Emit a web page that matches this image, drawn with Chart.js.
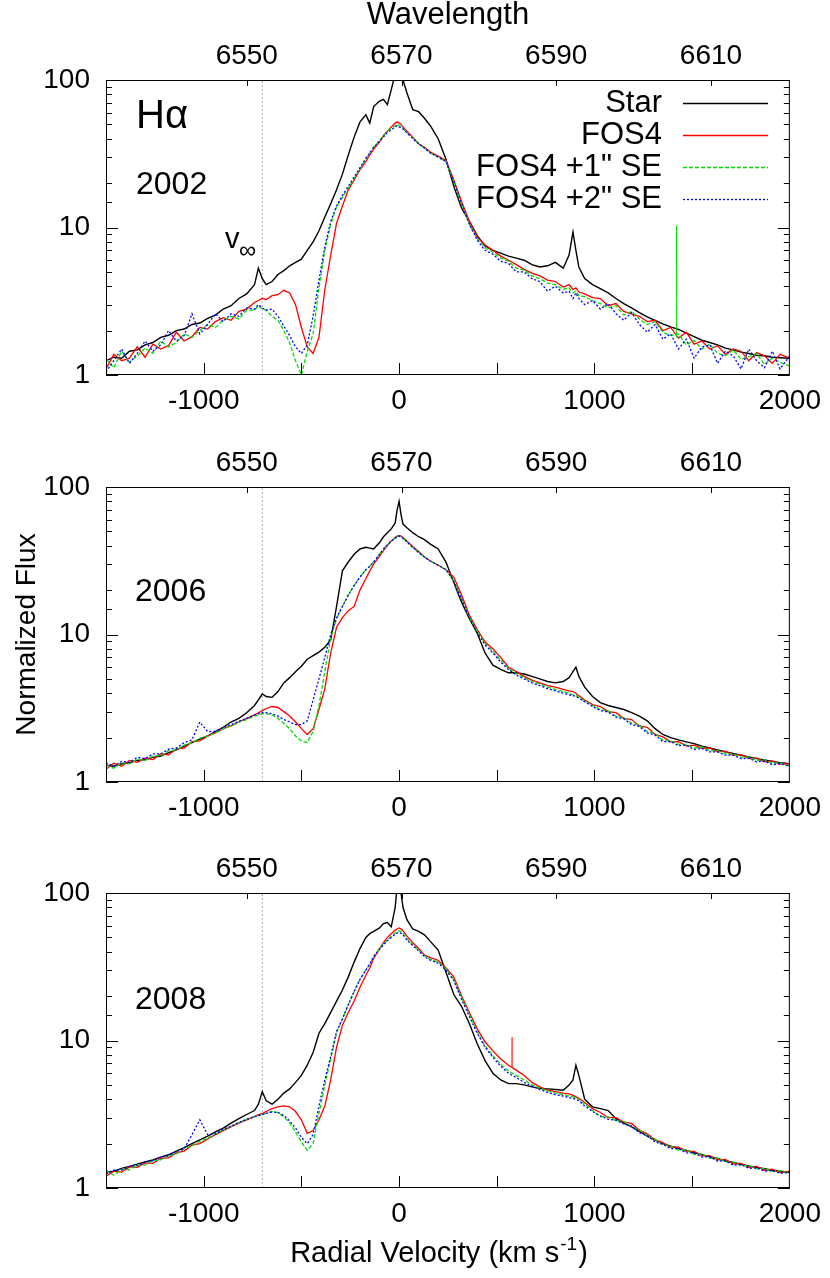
<!DOCTYPE html>
<html>
<head>
<meta charset="utf-8">
<script src="https://cdn.jsdelivr.net/npm/chart.js@4.4.0/dist/chart.umd.min.js"></script>
<style>
  body { margin: 0; background: #fff; }
  canvas { position: absolute; left: 0; }
</style>
</head>
<body>
<canvas id="c1" width="830" height="430" style="top:0px"></canvas>
<canvas id="c2" width="830" height="410" style="top:430px"></canvas>
<canvas id="c3" width="830" height="438" style="top:840px"></canvas>
<script>
// radial velocity grid (km/s), shared by all spectra
var vel = [-1500,-1460,-1420,-1380,-1340,-1300,-1260,-1220,-1180,-1140,-1100,-1060,-1020,
  -980,-940,-900,-860,-820,-780,-740,-720,-700,-680,-650,-620,-590,-560,
  -530,-500,-470,-440,-410,-380,-350,-320,-290,-260,-230,-200,-170,
  -150,-130,-100,-80,-60,-40,-20,-10,0,10,20,40,70,
  100,130,160,200,240,280,320,360,400,440,480,520,560,
  600,640,680,720,760,800,840,870,890,905,920,950,990,
  1030,1070,1110,1150,1190,1230,1270,1310,1350,1390,1430,1470,1510,
  1550,1590,1630,1670,1710,1750,1790,1830,1870,1910,1950,2000];

// 2002
var star02 = [1.25,1.32,1.3,1.45,1.48,1.6,1.66,1.8,1.86,2.0,2.05,2.2,2.25,
  2.42,2.55,2.8,2.95,3.3,3.55,4.1,5.3,4.5,4.1,4.3,4.8,5.1,5.5,
  5.8,6.1,7.0,8.0,9.5,11.8,14.5,18,23,31,41,52,58,
  51,66,72,74,68,86,110,140,140,125,100,82,63,
  61,55,49,40,29,19,13.5,11,8.8,7.5,7.0,6.7,6.4,
  6.2,6.0,5.6,5.4,5.5,5.8,5.3,6.5,9.3,7.0,5.4,4.5,4.1,
  3.85,3.6,3.3,3.05,2.85,2.65,2.48,2.35,2.22,2.12,2.04,1.92,1.82,
  1.72,1.66,1.6,1.52,1.48,1.43,1.4,1.36,1.35,1.32,1.31,1.3];
var fos02 = [1.1,1.38,1.25,1.3,1.55,1.32,1.62,1.5,1.58,1.95,1.7,1.82,2.1,
  2.05,2.3,2.45,2.35,2.7,2.8,3.1,3.2,3.3,3.25,3.45,3.5,3.75,3.6,
  3.0,2.1,1.55,1.4,1.8,3.8,6.5,10.7,14,18,21,24.6,28,
  31,34,38,42,45,48,51,52,51,50,48,45,41,
  37,35,32.5,30.5,28.5,21,15,11,8.6,7.6,7.0,6.4,6.0,
  5.6,5.2,4.9,4.7,4.4,4.3,3.95,4.1,3.8,3.9,3.65,3.55,3.35,
  3.3,2.95,3.05,2.7,2.6,2.5,2.3,2.35,2.0,2.1,1.78,1.95,1.62,
  1.7,1.5,1.58,1.38,1.5,1.45,1.25,1.42,1.35,1.2,1.38,1.3];
var se1_02 = [1.28,1.12,1.45,1.22,1.35,1.52,1.4,1.7,1.55,1.66,1.9,1.8,2.0,
  2.2,2.1,2.35,2.5,2.4,2.75,2.75,2.95,2.8,2.75,2.5,2.35,2.0,1.65,
  1.25,1.0,1.45,1.9,3.9,7.0,10.5,13.8,16,18.5,21.5,25,29,
  32,35,39,42,45,47,49,50,49,48,47,44,40.5,
  37,34.5,32,30,28,20.5,14.5,10.5,8.4,7.3,6.8,6.2,5.9,
  5.3,5.15,4.7,4.5,4.2,4.1,3.8,3.9,3.6,3.7,3.45,3.4,3.2,
  3.05,2.85,2.95,2.55,2.7,2.4,2.2,2.3,1.95,1.85,1.9,1.6,1.72,
  1.5,1.62,1.4,1.35,1.48,1.28,1.33,1.4,1.18,1.3,1.22,1.15];
var se2_02 = [1.05,1.25,1.5,1.2,1.4,1.7,1.45,1.6,2.0,1.7,1.85,2.6,1.9,
  2.2,2.6,2.3,2.6,2.5,2.85,2.8,3.0,2.85,2.75,2.8,2.5,2.15,1.85,
  1.55,1.4,1.6,2.5,4.4,7.4,11,14,16.5,19,22,25.5,29.5,
  32,35,38.5,41,44,46,48,49,48,47.5,46.5,44,40,
  37,34.5,32,30,28,20.5,14.5,10.5,8.2,7.0,6.6,5.9,5.7,
  5.0,5.0,4.5,4.3,3.7,4.0,3.6,3.7,3.3,3.6,3.3,3.0,3.2,
  2.8,3.05,2.6,2.35,2.65,2.2,1.95,2.2,1.75,1.9,1.5,1.75,1.3,
  1.55,1.6,1.2,1.45,1.35,1.1,1.5,1.25,1.12,1.45,1.1,1.35];
var glitch02V = [1419, 1420, 1421];
var glitch02F = [1.8, 10.3, 1.8];

// 2006
var star06 = [1.3,1.28,1.33,1.35,1.4,1.42,1.47,1.5,1.58,1.65,1.75,1.85,1.95,
  2.05,2.2,2.35,2.55,2.7,2.95,3.3,3.6,3.95,3.8,3.75,4.1,4.7,5.1,
  5.6,6.1,6.8,7.2,7.6,8.2,9.2,15.5,27,31,35,38,39,
  38.5,38,42,46,49,52,57,70,80,65,56,53,49,
  46,44,41,38,31,22.5,16.5,12.8,10.2,7.5,6.2,5.8,5.5,
  5.5,5.4,5.2,5.0,4.8,4.7,4.8,5.1,5.6,6.0,5.2,4.4,3.8,
  3.45,3.3,3.2,3.1,2.95,2.8,2.6,2.3,2.1,2.0,1.93,1.87,1.82,
  1.75,1.7,1.65,1.6,1.56,1.52,1.48,1.44,1.41,1.38,1.35,1.33];
var fos06 = [1.22,1.34,1.28,1.4,1.36,1.45,1.42,1.55,1.53,1.68,1.7,1.88,1.9,
  2.05,2.15,2.3,2.4,2.55,2.7,2.85,2.95,3.05,3.15,3.25,3.2,3.0,2.8,
  2.55,2.3,2.1,2.3,3.1,4.3,7.5,11.2,13,14.5,15.5,20,24,
  27,30,34,37,40,43,45.5,46.5,47,46.5,45.5,43,39.5,
  36.5,33.5,31.5,29.5,27.5,24.5,18.5,13.5,10.8,8.9,8.0,7.0,6.0,
  5.6,5.2,4.9,4.7,4.5,4.4,4.25,4.15,4.1,4.0,3.85,3.6,3.35,
  3.25,3.0,2.95,2.7,2.65,2.4,2.35,2.1,2.02,1.87,1.88,1.76,1.78,
  1.69,1.7,1.6,1.62,1.52,1.53,1.44,1.45,1.37,1.39,1.32,1.33];
var se1_06 = [1.3,1.24,1.35,1.33,1.43,1.4,1.5,1.51,1.63,1.65,1.78,1.84,1.98,
  2.05,2.15,2.3,2.4,2.55,2.65,2.8,2.85,2.9,2.9,2.85,2.7,2.5,2.3,
  2.05,1.9,1.85,2.2,3.3,5.6,9.5,12.8,15.5,18.5,21.5,24.5,27.5,
  29,31,35,38,40.5,43,45,46,46.5,46,45,42.5,39,
  36,33.5,31.5,29.5,27.5,23,17.5,13,10.5,8.7,7.7,6.7,5.9,
  5.4,5.1,4.8,4.6,4.4,4.25,4.1,4.0,3.9,3.85,3.75,3.55,3.3,
  3.1,3.03,2.8,2.74,2.5,2.43,2.2,2.13,1.92,1.9,1.8,1.8,1.7,
  1.72,1.63,1.63,1.55,1.55,1.47,1.48,1.4,1.41,1.34,1.35,1.28];
var se2_06 = [1.35,1.28,1.38,1.36,1.47,1.44,1.55,1.55,1.67,1.7,1.85,1.93,2.55,
  2.2,2.2,2.35,2.45,2.58,2.7,2.85,2.9,2.95,2.95,2.9,2.8,2.65,2.55,
  2.45,2.45,2.6,3.6,5.0,7.0,10.0,13,15.5,18.5,21.5,24.5,27.5,
  29,31,35,38,40.5,43,45,46,46.5,46,45,42.5,39,
  36,33.5,31.5,29.5,27.5,23,17.5,13,10.3,8.5,7.5,6.5,5.8,
  5.3,5.0,4.7,4.5,4.3,4.15,4.0,3.9,3.85,3.8,3.7,3.5,3.25,
  3.05,2.98,2.75,2.68,2.45,2.38,2.15,2.08,1.88,1.88,1.76,1.78,1.66,
  1.69,1.6,1.6,1.52,1.52,1.44,1.45,1.37,1.39,1.31,1.33,1.28];

// 2008
var star08 = [1.28,1.3,1.36,1.4,1.45,1.5,1.55,1.62,1.68,1.78,1.88,2.0,2.12,
  2.25,2.4,2.55,2.75,2.95,3.15,3.35,3.7,4.5,3.9,3.7,4.0,4.4,4.7,
  5.2,5.8,6.8,8.3,11.2,13,15.5,18.5,22,27,34,42,50,
  53,55,58,62,63,59,80,110,130,100,80,66,57,
  55,52,47,41,29,20.5,17,13,9.5,7.3,6.0,5.4,5.1,
  5.1,5.0,4.85,4.75,4.7,4.65,4.6,5.0,5.4,6.8,5.8,4.0,3.55,
  3.45,3.35,2.95,2.75,2.6,2.42,2.25,2.12,2.0,1.92,1.86,1.8,1.74,
  1.68,1.63,1.58,1.53,1.49,1.45,1.41,1.38,1.35,1.32,1.3,1.28];
var fos08 = [1.2,1.3,1.28,1.39,1.38,1.48,1.47,1.59,1.6,1.73,1.78,1.95,2.0,
  2.15,2.3,2.45,2.6,2.75,2.9,3.05,3.15,3.2,3.3,3.45,3.55,3.6,3.55,
  3.3,2.9,2.35,2.45,2.9,3.6,5.4,9,12.7,15.5,18.5,23,27.7,
  31,36,42,46,50,53,56,57,58,57,55.5,51,46,
  42,38,36.5,35,31,27,20,15.5,12,9.8,8.5,7.5,6.8,
  6.3,5.8,5.2,4.85,4.6,4.5,4.4,4.35,4.25,4.15,4.05,3.8,3.45,
  3.25,3.0,3.0,2.8,2.74,2.46,2.33,2.12,2.03,1.89,1.89,1.77,1.77,
  1.65,1.66,1.55,1.56,1.46,1.47,1.38,1.4,1.32,1.34,1.27,1.3];
var se1_08 = [1.32,1.22,1.34,1.33,1.44,1.43,1.54,1.55,1.66,1.7,1.84,1.93,2.07,
  2.18,2.32,2.48,2.62,2.78,2.92,3.05,3.1,3.15,3.2,3.3,3.25,3.05,2.75,
  2.4,2.05,1.8,2.0,3.2,5.0,7.5,11.3,14,17.5,21.5,26,30,
  33,37,42,45,48,51,53.5,55,55.5,55,53.5,49,44.5,
  41,37.5,35.5,34,30.5,26,19.5,15,11.5,9.2,7.9,6.9,6.2,
  5.8,5.4,5.0,4.75,4.55,4.4,4.3,4.2,4.15,4.1,4.0,3.7,3.35,
  3.05,3.04,2.86,2.83,2.61,2.48,2.25,2.15,1.95,1.93,1.81,1.81,1.69,
  1.7,1.59,1.6,1.5,1.5,1.42,1.42,1.35,1.36,1.29,1.31,1.25];
var se2_08 = [1.24,1.32,1.32,1.4,1.42,1.5,1.53,1.62,1.65,1.77,1.84,2.3,2.9,
  2.3,2.33,2.5,2.63,2.78,2.92,3.05,3.1,3.15,3.2,3.28,3.25,3.1,2.85,
  2.55,2.2,2.0,2.3,3.6,5.4,7.8,11.5,14,17.5,21.5,26,30,
  33,37,41.5,44.5,47.5,50,52.5,53.5,54,53.5,52,48,44,
  40.5,37,35,33.5,30,25.5,19,14.5,11.2,9.0,7.7,6.7,6.0,
  5.6,5.2,4.9,4.65,4.45,4.3,4.2,4.1,4.05,4.0,3.9,3.6,3.3,
  3.08,2.92,2.88,2.72,2.63,2.37,2.27,2.05,1.98,1.85,1.85,1.73,1.73,
  1.62,1.63,1.52,1.53,1.43,1.44,1.36,1.37,1.3,1.31,1.26,1.27];
var glitch08V = [576, 578, 580];
var glitch08F = [6.6, 10.5, 6.6];

// axes
var vInf = -700;
var velTicks = [-1000, 0, 1000, 2000];
var waveTicks = [6550, 6570, 6590, 6610];
var fluxTicks = [1, 10, 100];
var waveMin = 6531.8, waveMax = 6620.2;

var fontFamily = '"Liberation Sans", Arial, sans-serif';
Chart.defaults.font.family = fontFamily;
Chart.defaults.color = '#000';

function pts(xs, ys) {
  if (xs.length !== ys.length) throw new Error('length mismatch ' + ys.length);
  return xs.map(function (x, i) { return { x: x, y: ys[i] }; });
}

function spectra(star, fos, se1, se2) {
  return [
    { label: 'Star', data: pts(vel, star), borderColor: '#000000', borderWidth: 1.4, order: 4, inLegend: true },
    { label: 'FOS4', data: pts(vel, fos), borderColor: '#ff0000', borderWidth: 1.3, order: 3, inLegend: true },
    { label: 'FOS4 +1" SE', data: pts(vel, se1), borderColor: '#00dd00', borderWidth: 1.3, borderDash: [4, 2], order: 2, inLegend: true },
    { label: 'FOS4 +2" SE', data: pts(vel, se2), borderColor: '#0000ff', borderWidth: 1.3, borderDash: [2, 2], order: 1, inLegend: true },
    { label: 'vinf', data: pts([vInf, vInf], [1, 100]), borderColor: '#aaaaaa', borderWidth: 1, borderDash: [2, 2], order: 5 }
  ];
}

// frame, inward ticks, text notes, legend
var framePlugin = {
  id: 'frame',
  afterDraw: function (chart) {
    var o = chart.options.plugins.frame;
    var ctx = chart.ctx, a = chart.chartArea;
    function seg(x1, y1, x2, y2) { ctx.beginPath(); ctx.moveTo(x1, y1); ctx.lineTo(x2, y2); ctx.stroke(); }
    ctx.save();
    ctx.strokeStyle = '#000'; ctx.lineWidth = 1; ctx.setLineDash([]);
    ctx.strokeRect(a.left + 0.5, a.top + 0.5, a.right - a.left - 1, a.bottom - a.top - 1);

    var ys = chart.scales.y;
    ys.ticks.forEach(function (t) {
      var p = Math.round(ys.getPixelForValue(t.value)) + 0.5;
      var len = fluxTicks.indexOf(t.value) >= 0 ? 12 : 6;
      seg(a.left, p, a.left + len, p);
      seg(a.right, p, a.right - len, p);
    });
    var xs = chart.scales.x;
    xs.ticks.forEach(function (t) {
      if (t.value <= xs.min || t.value >= xs.max) return;
      var p = Math.round(xs.getPixelForValue(t.value)) + 0.5;
      seg(p, a.bottom, p, a.bottom - 12);
    });
    var ws = chart.scales.x2;
    ws.ticks.forEach(function (t) {
      if (waveTicks.indexOf(t.value) < 0) return;
      var p = Math.round(ws.getPixelForValue(t.value)) + 0.5;
      seg(p, a.top, p, a.top + 6);
    });

    ctx.fillStyle = '#000';
    ctx.textAlign = 'left'; ctx.textBaseline = 'alphabetic';
    (o.notes || []).forEach(function (n) {
      ctx.font = n.size + 'px ' + fontFamily;
      ctx.fillText(n.text, n.x, n.y);
    });

    if (o.legend) {
      var rowY = 103;
      chart.data.datasets.forEach(function (d, i) {
        if (!d.inLegend) return;
        var lo = chart.getDatasetMeta(i).dataset.options;
        ctx.font = '31px ' + fontFamily;
        ctx.textAlign = 'right'; ctx.textBaseline = 'middle';
        ctx.fillStyle = '#000';
        ctx.fillText(d.label, 662, rowY);
        ctx.beginPath();
        ctx.strokeStyle = lo.borderColor;
        ctx.lineWidth = 1.3;
        ctx.setLineDash(lo.borderDash || []);
        ctx.moveTo(683, rowY + 0.5);
        ctx.lineTo(768, rowY + 0.5);
        ctx.stroke();
        rowY += 32;
      });
      ctx.setLineDash([]);
    }

    if (o.velTitle) {
      var t1 = 'Radial Velocity (km s', sup = '-1', t2 = ')';
      ctx.textAlign = 'left'; ctx.textBaseline = 'alphabetic';
      ctx.font = '29px ' + fontFamily;
      var w1 = ctx.measureText(t1).width, w2 = ctx.measureText(t2).width;
      ctx.font = '19px ' + fontFamily;
      var ws2 = ctx.measureText(sup).width;
      var x0 = 438 - (w1 + ws2 + w2) / 2, base = 422;
      ctx.font = '29px ' + fontFamily;
      ctx.fillText(t1, x0, base);
      ctx.font = '19px ' + fontFamily;
      ctx.fillText(sup, x0 + w1 + 1, base - 12);
      ctx.font = '29px ' + fontFamily;
      ctx.fillText(t2, x0 + w1 + ws2 + 2, base);
    }
    ctx.restore();
  }
};

function makePanel(id, datasets, topH, bottomH, extra) {
  return new Chart(document.getElementById(id), {
    type: 'line',
    data: { datasets: datasets },
    plugins: [framePlugin],
    options: {
      responsive: false,
      devicePixelRatio: 1,
      animation: false,
      events: [],
      layout: { padding: { left: 0, right: 38, top: 0, bottom: 0 } },
      elements: { point: { radius: 0 }, line: { tension: 0, fill: false } },
      plugins: {
        legend: { display: false },
        tooltip: { enabled: false },
        frame: extra
      },
      scales: {
        x: {
          type: 'linear', position: 'bottom', min: -1500, max: 2000,
          grid: { display: false, drawTicks: false }, border: { display: false },
          ticks: {
            stepSize: 500, autoSkip: false, maxRotation: 0, padding: 9,
            font: { size: 28 }, color: '#000',
            callback: function (v) { return velTicks.indexOf(v) >= 0 ? String(v) : ''; }
          },
          afterFit: function (s) { s.height = bottomH; }
        },
        x2: {
          type: 'linear', position: 'top', min: waveMin, max: waveMax,
          grid: { display: false, drawTicks: false }, border: { display: false },
          ticks: {
            stepSize: 10, autoSkip: false, maxRotation: 0, padding: 7, maxTicksLimit: 30,
            font: { size: 28 }, color: '#000',
            callback: function (v) { return waveTicks.indexOf(v) >= 0 ? String(v) : ''; }
          },
          title: {
            display: !!extra.waveTitle, text: 'Wavelength', color: '#000',
            font: { size: 31, lineHeight: 1 }, padding: { top: 0, bottom: 0 }
          },
          afterFit: function (s) { s.height = topH; }
        },
        y: {
          type: 'logarithmic', position: 'left', min: 1, max: 100,
          grid: { display: false, drawTicks: false }, border: { display: false },
          ticks: {
            autoSkip: false, padding: 16, font: { size: 28 }, color: '#000',
            callback: function (v) { return fluxTicks.indexOf(v) >= 0 ? String(v) : ''; }
          },
          title: {
            display: !!extra.fluxTitle, text: 'Normalized Flux', color: '#000',
            font: { size: 28, lineHeight: 1 }, padding: { top: 13, bottom: 0 }
          },
          afterFit: function (s) { s.width = 106; }
        }
      }
    }
  });
}

var sets02 = spectra(star02, fos02, se1_02, se2_02);
sets02.push({ label: 'glitch', data: pts(glitch02V, glitch02F), borderColor: '#00dd00', borderWidth: 1, borderDash: [4, 2], order: 2 });
makePanel('c1', sets02, 80, 55, {
  waveTitle: true, legend: true,
  notes: [
    { text: 'H\u03b1', x: 136, y: 128, size: 40 },
    { text: '2002', x: 136, y: 194, size: 32 },
    { text: 'v', x: 225, y: 248, size: 29 },
    { text: '\u221e', x: 239, y: 258, size: 24 }
  ]
});

makePanel('c2', spectra(star06, fos06, se1_06, se2_06), 57, 58, {
  fluxTitle: true,
  notes: [{ text: '2006', x: 135, y: 171, size: 32 }]
});

var sets08 = spectra(star08, fos08, se1_08, se2_08);
sets08.push({ label: 'glitch', data: pts(glitch08V, glitch08F), borderColor: '#ff6666', borderWidth: 1, order: 3 });
makePanel('c3', sets08, 53, 90, {
  velTitle: true,
  notes: [{ text: '2008', x: 135, y: 169, size: 32 }]
});
</script>
</body>
</html>
